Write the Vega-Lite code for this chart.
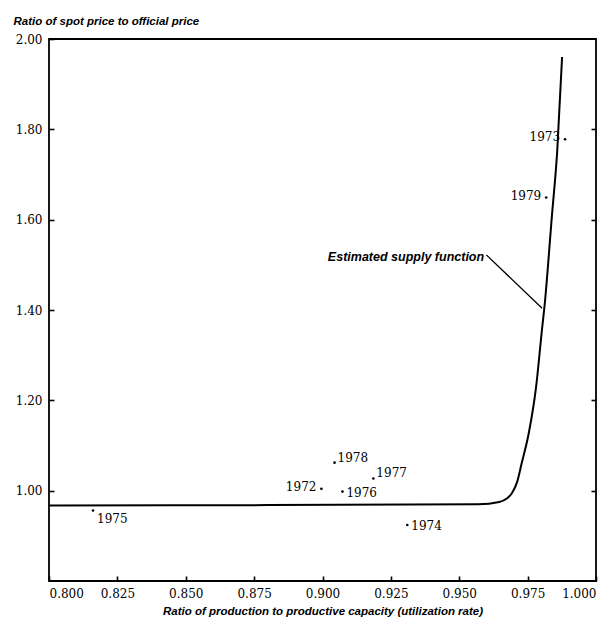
{
  "$schema": "https://vega.github.io/schema/vega-lite/v6.json",
  "width": 547,
  "height": 542,
  "autosize": "none",
  "padding": {"left": 49, "top": 39, "right": 20, "bottom": 46},
  "background": "white",
  "config": {
    "view": {"stroke": "black", "strokeWidth": 1.8},
    "axis": {
      "domain": false,
      "grid": false,
      "ticks": true,
      "tickSize": 5,
      "tickWidth": 1.6,
      "tickColor": "black",
      "labelFont": "DejaVu Serif",
      "labelFontSize": 12,
      "labelColor": "black",
      "titleFont": "Liberation Sans",
      "titleFontStyle": "italic",
      "titleFontWeight": "bold",
      "titleFontSize": 11.5,
      "titleColor": "black"
    }
  },
  "datasets": {
    "curve": [
      {"u": 0.800, "r": 0.967},
      {"u": 0.880, "r": 0.968},
      {"u": 0.957, "r": 0.970},
      {"u": 0.9646, "r": 0.975},
      {"u": 0.9675, "r": 0.983},
      {"u": 0.9693, "r": 0.995},
      {"u": 0.9712, "r": 1.02},
      {"u": 0.9728, "r": 1.06},
      {"u": 0.9755, "r": 1.13},
      {"u": 0.9781, "r": 1.23},
      {"u": 0.9803, "r": 1.36},
      {"u": 0.9812, "r": 1.41},
      {"u": 0.9839, "r": 1.61},
      {"u": 0.9858, "r": 1.75},
      {"u": 0.9876, "r": 1.96}
    ],
    "points": [
      {"u": 0.8996, "r": 1.004, "year": "1972"},
      {"u": 0.9887, "r": 1.778, "year": "1973"},
      {"u": 0.9310, "r": 0.924, "year": "1974"},
      {"u": 0.8161, "r": 0.956, "year": "1975"},
      {"u": 0.9073, "r": 0.998, "year": "1976"},
      {"u": 0.9186, "r": 1.027, "year": "1977"},
      {"u": 0.9044, "r": 1.062, "year": "1978"},
      {"u": 0.9818, "r": 1.649, "year": "1979"}
    ],
    "note": [
      {"u": 0.9591, "r": 1.518, "label": "Estimated supply function"}
    ],
    "leader": [
      {"u": 0.9599, "r": 1.522, "u2": 0.9803, "r2": 1.404}
    ]
  },
  "resolve": {"axis": {"y": "independent"}},
  "layer": [
    {
      "data": {"name": "curve"},
      "mark": {"type": "line", "color": "black", "strokeWidth": 2, "interpolate": "monotone"},
      "encoding": {
        "x": {
          "field": "u", "type": "quantitative",
          "title": "Ratio of production to productive capacity (utilization rate)",
          "scale": {"domain": [0.8, 1.0], "nice": false, "zero": false},
          "axis": {
            "values": [0.8, 0.825, 0.85, 0.875, 0.9, 0.925, 0.95, 0.975, 1.0],
            "format": ".3f",
            "offset": -5,
            "labelPadding": 7,
            "titlePadding": 6
          }
        },
        "y": {
          "field": "r", "type": "quantitative",
          "title": "Ratio of spot price to official price",
          "scale": {"domain": [0.8, 2.0], "nice": false, "zero": false},
          "axis": {
            "values": [1.0, 1.2, 1.4, 1.6, 1.8, 2.0],
            "format": ".2f",
            "offset": -5,
            "labelPadding": 7,
            "titleAngle": 0,
            "titleAlign": "left",
            "titleBaseline": "alphabetic",
            "titleX": -41,
            "titleY": -15
          }
        }
      }
    },
    {
      "data": {"name": "curve"},
      "mark": {"type": "line", "opacity": 0},
      "encoding": {
        "x": {"field": "u", "type": "quantitative", "title": "Ratio of production to productive capacity (utilization rate)"},
        "y": {
          "field": "r", "type": "quantitative",
          "title": "",
          "axis": {
            "orient": "right",
            "values": [1.0, 1.2, 1.4, 1.6, 1.8],
            "offset": -5,
            "labels": false
          }
        }
      }
    },
    {
      "data": {"name": "points"},
      "mark": {"type": "point", "filled": true, "color": "black", "size": 7, "opacity": 1},
      "encoding": {
        "x": {"field": "u", "type": "quantitative", "title": "Ratio of production to productive capacity (utilization rate)"},
        "y": {"field": "r", "type": "quantitative", "axis": null}
      }
    },
    {
      "data": {"name": "points"},
      "transform": [{"filter": {"field": "year", "oneOf": ["1972", "1973", "1979"]}}],
      "mark": {"type": "text", "align": "right", "baseline": "middle", "dx": -5, "dy": -2, "font": "DejaVu Serif", "fontSize": 12, "color": "black"},
      "encoding": {
        "x": {"field": "u", "type": "quantitative", "title": "Ratio of production to productive capacity (utilization rate)"},
        "y": {"field": "r", "type": "quantitative", "axis": null},
        "text": {"field": "year"}
      }
    },
    {
      "data": {"name": "points"},
      "transform": [{"filter": {"field": "year", "oneOf": ["1974", "1976"]}}],
      "mark": {"type": "text", "align": "left", "baseline": "middle", "dx": 4, "dy": 1, "font": "DejaVu Serif", "fontSize": 12, "color": "black"},
      "encoding": {
        "x": {"field": "u", "type": "quantitative", "title": "Ratio of production to productive capacity (utilization rate)"},
        "y": {"field": "r", "type": "quantitative", "axis": null},
        "text": {"field": "year"}
      }
    },
    {
      "data": {"name": "points"},
      "transform": [{"filter": {"field": "year", "oneOf": ["1977", "1978"]}}],
      "mark": {"type": "text", "align": "left", "baseline": "middle", "dx": 3, "dy": -5, "font": "DejaVu Serif", "fontSize": 12, "color": "black"},
      "encoding": {
        "x": {"field": "u", "type": "quantitative", "title": "Ratio of production to productive capacity (utilization rate)"},
        "y": {"field": "r", "type": "quantitative", "axis": null},
        "text": {"field": "year"}
      }
    },
    {
      "data": {"name": "points"},
      "transform": [{"filter": {"field": "year", "oneOf": ["1975"]}}],
      "mark": {"type": "text", "align": "left", "baseline": "middle", "dx": 4, "dy": 8, "font": "DejaVu Serif", "fontSize": 12, "color": "black"},
      "encoding": {
        "x": {"field": "u", "type": "quantitative", "title": "Ratio of production to productive capacity (utilization rate)"},
        "y": {"field": "r", "type": "quantitative", "axis": null},
        "text": {"field": "year"}
      }
    },
    {
      "data": {"name": "note"},
      "mark": {"type": "text", "align": "right", "baseline": "middle", "font": "Liberation Sans", "fontStyle": "italic", "fontWeight": "bold", "fontSize": 12.5, "color": "black"},
      "encoding": {
        "x": {"field": "u", "type": "quantitative", "title": "Ratio of production to productive capacity (utilization rate)"},
        "y": {"field": "r", "type": "quantitative", "axis": null},
        "text": {"field": "label"}
      }
    },
    {
      "data": {"name": "leader"},
      "mark": {"type": "rule", "color": "black", "strokeWidth": 1.3},
      "encoding": {
        "x": {"field": "u", "type": "quantitative", "title": "Ratio of production to productive capacity (utilization rate)"},
        "y": {"field": "r", "type": "quantitative", "axis": null},
        "x2": {"field": "u2"},
        "y2": {"field": "r2"}
      }
    }
  ]
}
